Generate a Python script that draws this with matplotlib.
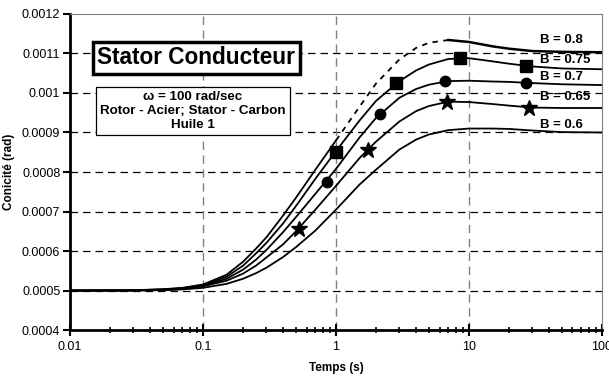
import numpy as np
import matplotlib.pyplot as plt
from matplotlib.ticker import LogLocator, NullFormatter, FixedLocator

plt.rcParams['font.family'] = ['Liberation Sans', 'DejaVu Sans']

# temps (s)
t = np.array([0.01, 0.03, 0.05, 0.07, 0.1, 0.15, 0.2, 0.25, 0.3, 0.4, 0.5,
              0.7, 1, 1.5, 2, 3, 4, 5, 7, 10, 15, 20, 30, 50, 100])

# conicite (x 1e-3 rad) pour chaque B
b080 = np.array([0.5, 0.501, 0.5035, 0.507, 0.5155, 0.540, 0.573, 0.606,
                 0.635, 0.690, 0.735, 0.806, 0.880, 0.965, 1.024, 1.085,
                 1.114, 1.127, 1.134, 1.129, 1.118, 1.112, 1.106, 1.104,
                 1.103])
b075 = np.array([0.5, 0.5008, 0.503, 0.506, 0.514, 0.535, 0.563, 0.594,
                 0.621, 0.670, 0.714, 0.783, 0.853, 0.930, 0.980, 1.030,
                 1.057, 1.072, 1.086, 1.088, 1.080, 1.074, 1.067, 1.062,
                 1.060])
b070 = np.array([0.5, 0.5006, 0.5025, 0.505, 0.5125, 0.530, 0.553, 0.578,
                 0.603, 0.648, 0.686, 0.745, 0.808, 0.887, 0.937, 0.988,
                 1.010, 1.021, 1.030, 1.031, 1.029, 1.028, 1.025, 1.022,
                 1.020])
b065 = np.array([0.5, 0.5004, 0.502, 0.504, 0.511, 0.525, 0.543, 0.563,
                 0.584, 0.617, 0.650, 0.705, 0.765, 0.835, 0.877, 0.928,
                 0.954, 0.967, 0.978, 0.977, 0.972, 0.968, 0.963, 0.962,
                 0.962])
b060 = np.array([0.5, 0.5002, 0.501, 0.503, 0.507, 0.517, 0.530, 0.544,
                 0.558, 0.585, 0.610, 0.652, 0.705, 0.768, 0.806, 0.857,
                 0.882, 0.895, 0.906, 0.910, 0.910, 0.909, 0.905, 0.901,
                 0.900])

# marqueurs
sq_x = [1.0, 2.83, 8.6, 27]
sq_y = [0.851, 1.026, 1.089, 1.067]
ci_x = [0.85, 2.15, 6.6, 27]
ci_y = [0.776, 0.947, 1.030, 1.026]
st_x = [0.53, 1.73, 6.8, 28.5]
st_y = [0.655, 0.856, 0.978, 0.962]

labels = ['B = 0.8', 'B = 0.75', 'B = 0.7', 'B = 0.65', 'B = 0.6']
label_y = [1.134, 1.084, 1.041, 0.989, 0.919]

fig = plt.figure(figsize=(6.09, 3.76), dpi=100)
ax = fig.add_axes([0.115, 0.122, 0.8735, 0.841])

k = 1e-3
lw = 1.3
# B = 0.8 : trait plein, pointille au milieu, trait plein
m1 = t <= 1
m2 = (t >= 1) & (t <= 7)
m3 = t >= 7
ax.plot(t[m1], b080[m1] * k, color='black', lw=lw)
ax.plot(t[m2], b080[m2] * k, color='black', lw=lw, ls=(0, (3, 3)))
ax.plot(t[m3], b080[m3] * k, color='black', lw=1.8)
for y in (b075, b070, b065, b060):
    ax.plot(t, y * k, color='black', lw=lw)

ax.plot(sq_x, np.array(sq_y) * k, 's', color='black', ms=8)
ax.plot(ci_x, np.array(ci_y) * k, 'o', color='black', ms=7.5)
ax.plot(st_x, np.array(st_y) * k, '*', color='black', ms=12)

for lab, y in zip(labels, label_y):
    ax.text(34, y * k, lab, fontsize=9.5, fontweight='bold', va='center')

ax.set_xscale('log')
ax.set_xlim(0.01, 100)
ax.set_ylim(0.0004, 0.0012)
ax.yaxis.set_major_locator(FixedLocator(np.arange(0.0004, 0.00121, 0.0001)))
ax.set_yticklabels(['0.0004', '0.0005', '0.0006', '0.0007', '0.0008',
                    '0.0009', '0.001', '0.0011', '0.0012'])
ax.xaxis.set_major_locator(FixedLocator([0.01, 0.1, 1, 10, 100]))
ax.set_xticklabels(['0.01', '0.1', '1', '10', '100'])
ax.xaxis.set_minor_locator(LogLocator(base=10, subs=np.arange(2, 10)))
ax.xaxis.set_minor_formatter(NullFormatter())

for yv in np.arange(0.0005, 0.00115, 0.0001):
    ax.axhline(yv, color='black', lw=0.9, ls=(0, (6, 4)), zorder=0)
for xv in (0.1, 1, 10):
    ax.axvline(xv, color='#808080', lw=1.0, ls=(0, (6, 4)), zorder=0)

ax.tick_params(axis='y', which='major', direction='out', length=5, width=1.5,
               labelsize=9, pad=2)
ax.tick_params(axis='x', which='major', direction='inout', length=9, width=1.5,
               labelsize=9, pad=3)
ax.tick_params(axis='x', which='minor', direction='inout', length=5, width=1.2)

for s in ('left', 'bottom'):
    ax.spines[s].set_linewidth(2.0)
    ax.spines[s].set_color('black')
for s in ('top', 'right'):
    ax.spines[s].set_linewidth(0.8)
    ax.spines[s].set_color('#808080')

ax.set_xlabel('Temps (s)', fontsize=8.5, fontweight='bold', labelpad=7)
ax.set_ylabel('Conicité (rad)', fontsize=8.5, fontweight='bold', labelpad=5)

fig.text(0.322, 0.847, 'Stator Conducteur', fontsize=16.3, fontweight='bold',
         ha='center', va='center',
         bbox=dict(boxstyle='square,pad=0.2', facecolor='white',
                   edgecolor='black', linewidth=2.5))
fig.text(0.317, 0.705, 'ω = 100 rad/sec\nRotor - Acier; Stator - Carbon\nHuile 1',
         fontsize=9.6, fontweight='bold', ha='center', va='center',
         linespacing=1.2,
         bbox=dict(boxstyle='square,pad=0.3', facecolor='white',
                   edgecolor='black', linewidth=0.9))

fig.savefig('out.png', dpi=100)
